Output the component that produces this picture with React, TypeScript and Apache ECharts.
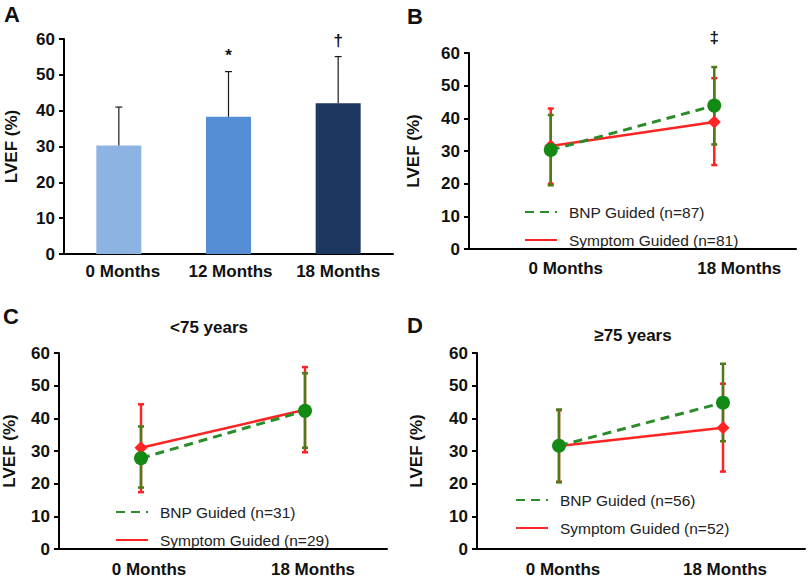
import React, { useEffect, useRef } from "react";
import * as echarts from "echarts";

// ---------- data ----------
const barCategories = ["0 Months", "12 Months", "18 Months"];
const barMeans = [30.3, 38.3, 42.1];
const barUpper = [41.0, 50.9, 55.1];
const barMarks = ["", "*", "†"];

const lineCategories = ["0 Months", "18 Months"];

const bBnpName = "BNP Guided (n=87)";
const bSymName = "Symptom Guided (n=81)";
const bBnpMean = [30.3, 43.9];
const bBnpLow = [19.5, 32.0];
const bBnpHigh = [41.0, 55.7];
const bSymMean = [31.5, 38.9];
const bSymLow = [20.0, 25.7];
const bSymHigh = [43.0, 52.3];
const bMarks = ["", "‡"];

const cTitle = "<75 years";
const cBnpName = "BNP Guided (n=31)";
const cSymName = "Symptom Guided (n=29)";
const cBnpMean = [27.8, 42.3];
const cBnpLow = [18.8, 31.0];
const cBnpHigh = [37.5, 53.8];
const cSymMean = [31.0, 42.6];
const cSymLow = [17.4, 29.6];
const cSymHigh = [44.3, 55.7];

const dTitle = "≥75 years";
const dBnpName = "BNP Guided (n=56)";
const dSymName = "Symptom Guided (n=52)";
const dBnpMean = [31.6, 44.8];
const dBnpLow = [20.4, 33.0];
const dBnpHigh = [42.7, 56.7];
const dSymMean = [31.5, 37.1];
const dSymLow = [20.6, 23.7];
const dSymHigh = [42.5, 50.6];

const yTicks = { min: 0, max: 60, interval: 10 };
const yName = "LVEF (%)";

// ---------- styles ----------
const FONT = "'Liberation Sans', Arial, Helvetica, sans-serif";
const barColors = ["#8DB3E2", "#558ED5", "#1C3860"];
const GREEN = "#138A13";
const GREEN_LINE = "#2B8C2B";
const OLIVE = "#4E7A18";
const RED = "#FF2424";
const INK = "#111111";

function errBar(color: string, width: number, cap: number, marks?: string[], markOffset = 0, markSize = 16, lowCap = true) {
  return (params: any, api: any) => {
    const x = api.value(0);
    const lo = api.coord([x, api.value(1)]);
    const hi = api.coord([x, api.value(2)]);
    const st = { stroke: color, lineWidth: width };
    const children: any[] = [
      { type: "line", shape: { x1: lo[0], y1: lo[1], x2: hi[0], y2: hi[1] }, style: st },
      { type: "line", shape: { x1: hi[0] - cap, y1: hi[1], x2: hi[0] + cap, y2: hi[1] }, style: st },
    ];
    if (lowCap) {
      children.push({ type: "line", shape: { x1: lo[0] - cap, y1: lo[1], x2: lo[0] + cap, y2: lo[1] }, style: st });
    }
    const m = marks ? marks[params.dataIndex] : "";
    if (m) {
      children.push({
        type: "text",
        x: hi[0],
        y: hi[1] - markOffset,
        style: { text: m, fontSize: markSize, fontWeight: "bold", fontFamily: FONT, fill: INK, align: "center", verticalAlign: "middle" },
      });
    }
    return { type: "group", children };
  };
}

function yAxis(gridIndex: number, nameGap: number) {
  return {
    type: "value",
    gridIndex,
    min: yTicks.min,
    max: yTicks.max,
    interval: yTicks.interval,
    splitLine: { show: false },
    axisLine: { show: true, lineStyle: { color: "#000", width: 2 } },
    axisTick: { show: true, length: 5, lineStyle: { color: "#000", width: 2 } },
    axisLabel: { color: INK, fontSize: 17, fontWeight: "bold", fontFamily: FONT, margin: 9 },
    name: yName,
    nameLocation: "middle",
    nameGap,
    nameTextStyle: { color: INK, fontSize: 17, fontWeight: "bold", fontFamily: FONT },
  };
}

function xAxis(gridIndex: number, cats: string[], shifts: number[], margin: number) {
  const rich: any = {};
  shifts.forEach((s, i) => {
    rich["l" + i] = { fontSize: 17, fontWeight: "bold", fontFamily: FONT, color: INK, padding: [0, 0, 0, 2 * s] };
  });
  return {
    type: "category",
    gridIndex,
    data: cats,
    axisTick: { show: false },
    axisLine: { show: true, lineStyle: { color: "#000", width: 2 } },
    axisLabel: {
      margin,
      interval: 0,
      formatter: (v: string, i: number) => `{l${i}|${v}}`,
      rich,
    },
  };
}

function linePanel(
  idx: number,
  bnpName: string,
  symName: string,
  bnpMean: number[],
  bnpLow: number[],
  bnpHigh: number[],
  symMean: number[],
  symLow: number[],
  symHigh: number[],
  marks?: string[]
) {
  const ax = { xAxisIndex: idx, yAxisIndex: idx };
  return [
    {
      type: "line",
      name: symName,
      ...ax,
      data: symMean,
      symbol: "none",
      lineStyle: { color: RED, width: 2.5, type: "solid" },
      itemStyle: { color: RED },
      z: 2,
    },
    {
      type: "line",
      name: bnpName,
      ...ax,
      data: bnpMean,
      symbol: "none",
      lineStyle: { color: GREEN_LINE, width: 3, type: [9, 6] },
      itemStyle: { color: GREEN_LINE },
      z: 3,
    },
    {
      type: "custom",
      ...ax,
      data: symLow.map((l, i) => [i, l, symHigh[i]]),
      encode: { x: 0, y: [1, 2] },
      renderItem: errBar(RED, 2.5, 3),
      z: 4,
    },
    {
      type: "custom",
      ...ax,
      data: bnpLow.map((l, i) => [i, l, bnpHigh[i]]),
      encode: { x: 0, y: [1, 2] },
      renderItem: errBar(OLIVE, 2.5, 3, marks, 30, 17),
      z: 5,
    },
    {
      type: "scatter",
      ...ax,
      data: symMean,
      symbol: "diamond",
      symbolSize: 13,
      itemStyle: { color: RED, opacity: 1 },
      z: 6,
    },
    {
      type: "scatter",
      ...ax,
      data: bnpMean,
      symbol: "circle",
      symbolSize: 14,
      itemStyle: { color: GREEN, opacity: 1 },
      z: 7,
    },
  ];
}

function legend(left: number, top: number, names: string[]) {
  return {
    left,
    top,
    padding: 0,
    orient: "vertical",
    data: names,
    itemWidth: 32,
    itemHeight: 14,
    itemGap: 12,
    selectedMode: false,
    itemStyle: { opacity: 0 },
    textStyle: { color: "#222", fontSize: 15.5, fontFamily: FONT, padding: [0, 0, 0, 7] },
  };
}

export default function App() {
  const ref = useRef<HTMLDivElement>(null);
  useEffect(() => {
    if (!ref.current) return;
    const chart = echarts.init(ref.current, undefined, { renderer: "svg" });
    const option: any = {
      animation: false,
      backgroundColor: "#ffffff",
      grid: [
        { left: 64, top: 39, width: 329, height: 215 },
        { left: 469, top: 53, width: 327, height: 196 },
        { left: 59, top: 353, width: 328, height: 196 },
        { left: 477, top: 353, width: 328, height: 196 },
      ],
      xAxis: [
        xAxis(0, barCategories, [4, 2, 0], 9),
        xAxis(1, lineCategories, [15, 25], 11),
        xAxis(2, lineCategories, [8, 8], 12),
        xAxis(3, lineCategories, [4, 2], 12),
      ],
      yAxis: [yAxis(0, 44), yAxis(1, 47), yAxis(2, 41), yAxis(3, 52)],
      legend: [
        legend(524, 204, [bBnpName, bSymName]),
        legend(115, 504, [cBnpName, cSymName]),
        legend(515, 492, [dBnpName, dSymName]),
      ],
      series: [
        {
          type: "bar",
          xAxisIndex: 0,
          yAxisIndex: 0,
          barWidth: 45,
          data: barMeans.map((v, i) => ({ value: v, itemStyle: { color: barColors[i] } })),
          z: 2,
        },
        {
          type: "custom",
          xAxisIndex: 0,
          yAxisIndex: 0,
          data: barMeans.map((m, i) => [i, m, barUpper[i]]),
          encode: { x: 0, y: [1, 2] },
          renderItem: errBar("#1a1a1a", 1.2, 3.5, barMarks, 16, 17, false),
          z: 3,
        },
        ...linePanel(1, bBnpName, bSymName, bBnpMean, bBnpLow, bBnpHigh, bSymMean, bSymLow, bSymHigh, bMarks),
        ...linePanel(2, cBnpName, cSymName, cBnpMean, cBnpLow, cBnpHigh, cSymMean, cSymLow, cSymHigh),
        ...linePanel(3, dBnpName, dSymName, dBnpMean, dBnpLow, dBnpHigh, dSymMean, dSymLow, dSymHigh),
      ],
      graphic: [
        { type: "text", left: 4, top: 3, style: { text: "A", fontSize: 22, fontWeight: "bold", fontFamily: FONT, fill: INK } },
        { type: "text", left: 407, top: 5, style: { text: "B", fontSize: 22, fontWeight: "bold", fontFamily: FONT, fill: INK } },
        { type: "text", left: 3, top: 305, style: { text: "C", fontSize: 22, fontWeight: "bold", fontFamily: FONT, fill: INK } },
        { type: "text", left: 407, top: 314, style: { text: "D", fontSize: 22, fontWeight: "bold", fontFamily: FONT, fill: INK } },
        {
          type: "text",
          x: 209,
          y: 327,
          style: { text: cTitle, fontSize: 17, fontWeight: "bold", fontFamily: FONT, fill: INK, align: "center", verticalAlign: "middle" },
        },
        {
          type: "text",
          x: 633,
          y: 335,
          style: { text: dTitle, fontSize: 17, fontWeight: "bold", fontFamily: FONT, fill: INK, align: "center", verticalAlign: "middle" },
        },
      ],
    };
    chart.setOption(option);
    return () => chart.dispose();
  }, []);
  return (
    <div
      ref={ref}
      style={{ position: "fixed", left: 0, top: 0, width: 809, height: 578, background: "#fff" }}
    />
  );
}
